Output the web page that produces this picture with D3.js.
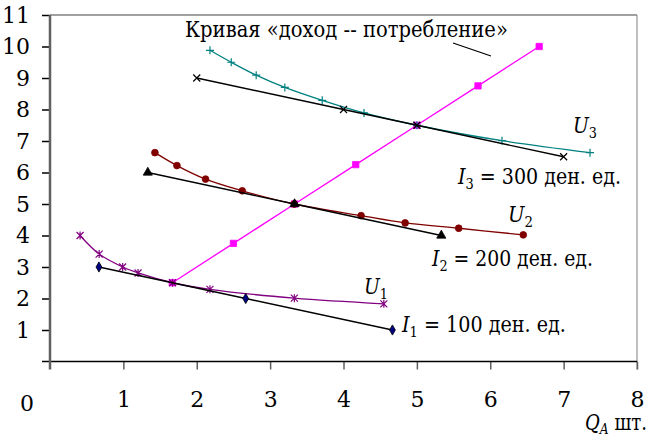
<!DOCTYPE html>
<html>
<head>
<meta charset="utf-8">
<script src="https://cdn.jsdelivr.net/npm/d3@7"></script>
<style>
body { margin: 0; background: #fff; }
</style>
</head>
<body>
<div id="chart"></div>
<script>
// income-consumption curve
var iccX = [1.667, 2.5, 3.333, 4.167, 5, 5.833, 6.667];
var iccY = [2.5, 3.75, 5, 6.25, 7.5, 8.75, 10];
// indifference curves
var u1X = [0.41, 0.67, 0.99, 1.2, 1.67, 2.18, 3.33, 4.55];
var u1Y = [4.0, 3.41, 3.0, 2.81, 2.5, 2.29, 2.01, 1.83];
var u2X = [1.43, 1.73, 2.12, 2.62, 3.33, 4.24, 4.84, 5.57, 6.45];
var u2Y = [6.63, 6.22, 5.79, 5.42, 5.0, 4.63, 4.40, 4.23, 4.02];
var u3X = [2.18, 2.47, 2.81, 3.2, 3.71, 4.28, 5.0, 6.16, 7.36];
var u3Y = [9.88, 9.5, 9.09, 8.7, 8.29, 7.89, 7.5, 7.01, 6.63];
// budget lines
var i1X = [0.667, 2.667, 4.667];
var i1Y = [3, 2, 1];
var i2X = [1.333, 3.333, 5.333];
var i2Y = [6, 5, 4];
var i3X = [2, 4, 5, 7];
var i3Y = [9, 8, 7.5, 6.5];

var xTicks = [1, 2, 3, 4, 5, 6, 7, 8];
var yTicks = [1, 2, 3, 4, 5, 6, 7, 8, 9, 10, 11];

var width = 656, height = 440;
var pLeft = 50, pRight = 637, pTop = 15, pBottom = 361.5;
var FONT = "'DejaVu Serif'";

var svg = d3.select("#chart").append("svg")
    .attr("width", width)
    .attr("height", height);

var x = d3.scaleLinear().domain([0, 8]).range([pLeft, pRight]);
var y = d3.scaleLinear().domain([0, 11]).range([pBottom, pTop]);

// squeeze a text horizontally so it spans w pixels from its left edge
function fit(t, x0, w) {
    var bw = t.node().getBBox().width;
    if (bw > 0) {
        t.attr("transform", "translate(" + x0 + ",0) scale(" + (w / bw) + ",1) translate(" + (-x0) + ",0)");
    }
    return t;
}

// frame (top + right, grey)
svg.append("line").attr("x1", pLeft).attr("x2", pRight).attr("y1", pTop).attr("y2", pTop)
    .attr("stroke", "#808080").attr("stroke-width", 1.5);
svg.append("line").attr("x1", pRight).attr("x2", pRight).attr("y1", pTop).attr("y2", pBottom + 8)
    .attr("stroke", "#808080").attr("stroke-width", 1);

// x axis
var xAxis = svg.append("g")
    .attr("transform", "translate(0," + pBottom + ")")
    .call(d3.axisBottom(x).tickValues(xTicks).tickSizeInner(8).tickSizeOuter(0).tickPadding(22));
xAxis.attr("font-family", null).attr("font-size", null);
xAxis.select(".domain").remove();
xAxis.selectAll(".tick line").attr("stroke", "#606060").attr("stroke-width", 1.5);
xAxis.selectAll(".tick text").style("font-family", FONT).style("font-size", "22px")
    .attr("fill", "#000");
svg.append("line").attr("x1", pLeft - 8).attr("x2", pRight).attr("y1", pBottom).attr("y2", pBottom)
    .attr("stroke", "#000").attr("stroke-width", 1.5);

// y axis
var yAxis = svg.append("g")
    .attr("transform", "translate(" + pLeft + ",0)")
    .call(d3.axisLeft(y).tickValues(yTicks).tickSizeInner(8).tickSizeOuter(0).tickPadding(12));
yAxis.attr("font-family", null).attr("font-size", null);
yAxis.select(".domain").remove();
yAxis.selectAll(".tick line").attr("stroke", "#000").attr("stroke-width", 1.5);
yAxis.selectAll(".tick text").style("font-family", FONT).style("font-size", "22px")
    .attr("fill", "#000");
svg.append("line").attr("x1", pLeft).attr("x2", pLeft).attr("y1", pTop).attr("y2", pBottom + 8)
    .attr("stroke", "#606060").attr("stroke-width", 2.5);

svg.append("text").attr("x", 27).attr("y", 411).attr("text-anchor", "middle")
    .style("font-family", FONT).style("font-size", "22px").text("0");

function pts(xs, ys) {
    return xs.map(function(d, i) { return [d, ys[i]]; });
}

var straight = d3.line().x(function(d) { return x(d[0]); }).y(function(d) { return y(d[1]); });
var smooth = d3.line().x(function(d) { return x(d[0]); }).y(function(d) { return y(d[1]); })
    .curve(d3.curveCatmullRom.alpha(0.5));

var plus = "M-4,0H4M0,-4V4";
var cross = "M-3.5,-3.5L3.5,3.5M-3.5,3.5L3.5,-3.5";
var star = "M-3.5,-3.5L3.5,3.5M-3.5,3.5L3.5,-3.5M0,-4V4";

var series = [
    {data: pts(iccX, iccY), color: "#ff00ff", line: straight, mark: d3.symbol(d3.symbolSquare, 40)(), fill: "#ff00ff"},
    {data: pts(u1X, u1Y), color: "#800080", line: smooth, mark: star, fill: "none"},
    {data: pts(u2X, u2Y), color: "#800000", line: smooth, mark: d3.symbol(d3.symbolCircle, 36)(), fill: "#800000"},
    {data: pts(u3X, u3Y), color: "#008080", line: smooth, mark: plus, fill: "none"},
    {data: pts(i1X, i1Y), color: "#000", line: straight, mark: d3.symbol(d3.symbolDiamond, 30)(), fill: "#000080"},
    {data: pts(i2X, i2Y), color: "#000", line: straight, mark: d3.symbol(d3.symbolTriangle, 36)(), fill: "#000"},
    {data: pts(i3X, i3Y), color: "#000", line: straight, mark: cross, fill: "none"}
];

series.forEach(function(s) {
    var g = svg.append("g");
    g.append("path")
        .attr("d", s.line(s.data))
        .attr("fill", "none")
        .attr("stroke", s.color)
        .attr("stroke-width", 1.3);
    g.selectAll("path.mk")
        .data(s.data)
        .enter()
        .append("path")
        .attr("class", "mk")
        .attr("d", s.mark)
        .attr("transform", function(d) { return "translate(" + x(d[0]) + "," + y(d[1]) + ")"; })
        .attr("fill", s.fill)
        .attr("stroke", s.fill === "none" ? s.color : (s.fill === "#000080" ? "#000" : s.fill))
        .attr("stroke-width", s.fill === "none" ? 1.2 : 0.8);
});

// labels
var title = svg.append("text").attr("x", 185).attr("y", 37)
    .style("font-family", FONT).style("font-size", "22px")
    .text("Кривая «доход -- потребление»");
fit(title, 185, 323);
svg.append("line").attr("x1", 453).attr("y1", 43).attr("x2", 491).attr("y2", 56)
    .attr("stroke", "#000").attr("stroke-width", 1.3);

function label(px, py, w, main, sub, rest) {
    var t = svg.append("text").attr("x", px).attr("y", py)
        .style("font-family", FONT).style("font-size", "22px");
    t.append("tspan").style("font-style", "italic").text(main);
    t.append("tspan").style("font-size", "15px").attr("dy", 5).text(sub);
    if (rest) t.append("tspan").attr("dy", -5).text(rest);
    return fit(t, px, w);
}
label(573, 133, 24, "U", "3");
label(508, 222, 25, "U", "2");
label(364, 294, 24, "U", "1");
label(458, 184, 164, "I", "3", " = 300 ден. ед.");
label(432, 266, 162, "I", "2", " = 200 ден. ед.");
label(402, 332, 165, "I", "1", " = 100 ден. ед.");

var q = svg.append("text").attr("x", 585).attr("y", 430)
    .style("font-family", FONT).style("font-size", "22px");
q.append("tspan").style("font-style", "italic").text("Q");
q.append("tspan").style("font-style", "italic").style("font-size", "15px").attr("dy", 4).text("A");
q.append("tspan").attr("dy", -4).text(" шт.");
fit(q, 585, 62);
</script>
</body>
</html>
